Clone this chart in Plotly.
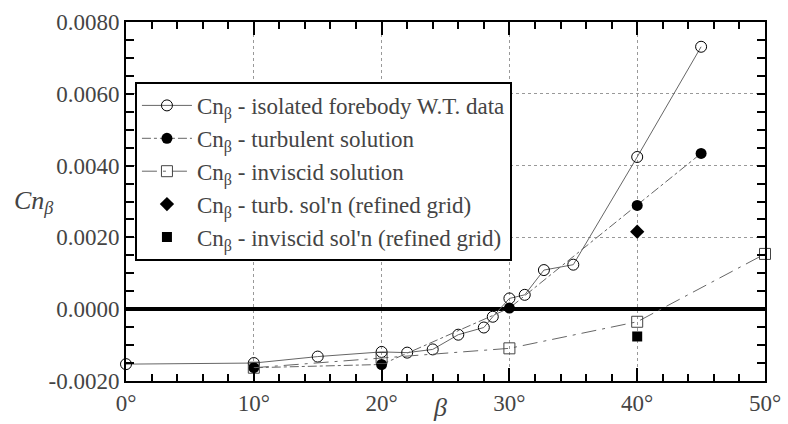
import plotly.graph_objects as go

# ---- data ----
wt_beta = [0, 10, 15, 20, 22, 24, 26, 28, 28.7, 30, 31.2, 32.7, 35, 40, 45]
wt_cn = [-0.00153, -0.00150, -0.00132, -0.00119, -0.00121, -0.00112, -0.00071,
         -0.00051, -0.00021, 0.00030, 0.00040, 0.00109, 0.00124, 0.00424, 0.00731]

turb_beta = [10, 20, 30, 40, 45]
turb_cn = [-0.00163, -0.00154, 0.00003, 0.00289, 0.00434]

inv_beta = [10, 20, 30, 40, 50]
inv_cn = [-0.00163, -0.00136, -0.00109, -0.00035, 0.00154]

turb_ref_beta = [40]
turb_ref_cn = [0.00216]

inv_ref_beta = [40]
inv_ref_cn = [-0.00076]

y_tickvals = [-0.002, 0.0, 0.002, 0.004, 0.006, 0.008]
y_ticktext = ["-0.0020", "0.0000", "0.0020", "0.0040", "0.0060", "0.0080"]
x_tickvals = [0, 10, 20, 30, 40, 50]
x_ticktext = ["0&#176;", "10&#176;", "20&#176;", "30&#176;", "40&#176;", "50&#176;"]

BETA = "&#946;"
names = [
    "Cn<sub>" + BETA + "</sub> - isolated forebody W.T. data",
    "Cn<sub>" + BETA + "</sub> - turbulent solution",
    "Cn<sub>" + BETA + "</sub> - inviscid solution",
    "Cn<sub>" + BETA + "</sub> - turb. sol'n (refined grid)",
    "Cn<sub>" + BETA + "</sub> - inviscid sol'n (refined grid)",
]

FONT = "Times New Roman"
FS = 23
LINEC = "#666666"
XR = [0, 50]
YR = [-0.002, 0.008]

fig = go.Figure()
fig.add_trace(go.Scatter(
    x=wt_beta, y=wt_cn, name=names[0], mode="lines+markers",
    line=dict(color=LINEC, width=1),
    marker=dict(symbol="circle-open", size=11, color="black", line=dict(width=1)),
    cliponaxis=False))
fig.add_trace(go.Scatter(
    x=turb_beta, y=turb_cn, name=names[1], mode="lines+markers",
    line=dict(color=LINEC, width=1, dash="dashdot"),
    marker=dict(symbol="circle", size=11, color="black"),
    cliponaxis=False))
fig.add_trace(go.Scatter(
    x=inv_beta, y=inv_cn, name=names[2], mode="lines+markers",
    line=dict(color=LINEC, width=1, dash="longdashdot"),
    marker=dict(symbol="square-open", size=11, color="#444444", line=dict(width=1)),
    cliponaxis=False))
fig.add_trace(go.Scatter(
    x=turb_ref_beta, y=turb_ref_cn, name=names[3], mode="markers",
    marker=dict(symbol="diamond", size=11, color="black"),
    cliponaxis=False))
fig.add_trace(go.Scatter(
    x=inv_ref_beta, y=inv_ref_cn, name=names[4], mode="markers",
    marker=dict(symbol="square", size=10, color="black"),
    cliponaxis=False))

# invisible trace on the overlay axes that carry the minor ticks
fig.add_trace(go.Scatter(x=XR, y=YR, xaxis="x2", yaxis="y2", mode="markers",
                         marker=dict(opacity=0), showlegend=False, hoverinfo="skip"))

fig.update_layout(
    template="none",
    width=788, height=424,
    margin=dict(l=126, r=23, t=22, b=43),
    paper_bgcolor="white", plot_bgcolor="white",
    font=dict(family=FONT, size=FS),
    showlegend=True,
    xaxis=dict(
        range=XR, tickmode="array", tickvals=x_tickvals, ticktext=x_ticktext,
        showline=True, linecolor="black", linewidth=2, mirror="ticks",
        ticks="inside", ticklen=13, tickwidth=1.5, tickcolor="black",
        tickfont=dict(family=FONT, size=FS), zeroline=False,
        showgrid=True, gridcolor="#999999", griddash="dot", gridwidth=1),
    xaxis2=dict(
        range=XR, overlaying="x", side="bottom", anchor="y2",
        tickmode="linear", tick0=0, dtick=2, showticklabels=False,
        showline=False, mirror="ticks",
        ticks="inside", ticklen=7, tickwidth=1.5, tickcolor="black",
        showgrid=False, zeroline=False),
    yaxis=dict(
        range=YR, tickmode="array", tickvals=y_tickvals, ticktext=y_ticktext,
        showline=True, linecolor="black", linewidth=2, mirror="ticks",
        ticks="inside", ticklen=8, tickwidth=1.5, tickcolor="black",
        tickfont=dict(family=FONT, size=FS),
        zeroline=True, zerolinecolor="black", zerolinewidth=4,
        showgrid=True, gridcolor="#999999", griddash="dot", gridwidth=1),
    yaxis2=dict(
        range=YR, overlaying="y", side="left", anchor="x2",
        tickmode="linear", tick0=0, dtick=0.0005, showticklabels=False,
        showline=False, mirror="ticks",
        ticks="inside", ticklen=8, tickwidth=1.5, tickcolor="black",
        showgrid=False, zeroline=False),
    legend=dict(
        x=0.014, y=0.833, xanchor="left", yanchor="top",
        bgcolor="white", bordercolor="black", borderwidth=2,
        font=dict(family=FONT, size=FS),
        itemwidth=50,
    ),
)

fig.add_annotation(
    text="<i>Cn<sub>" + BETA + "</sub></i>", xref="paper", yref="y",
    x=-0.178, y=0.0030, xanchor="left", yanchor="middle", showarrow=False,
    font=dict(family=FONT, size=FS + 3))
fig.add_annotation(
    text="<i>" + BETA + "</i>", xref="x", yref="paper",
    x=24.6, y=-0.075, xanchor="center", yanchor="middle", showarrow=False,
    font=dict(family=FONT, size=FS + 3))

fig.write_html("out.html")
